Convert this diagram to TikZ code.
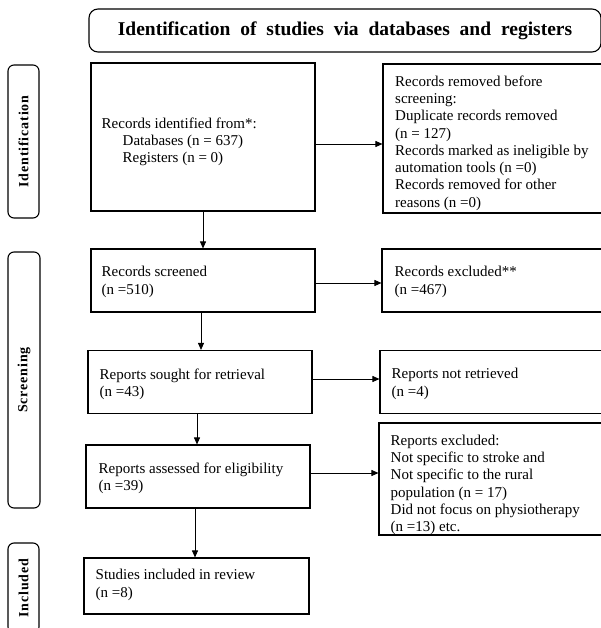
\documentclass[tikz,border=0pt]{standalone}
\usepackage{fontspec}
\setmainfont{Liberation Serif}
\usetikzlibrary{arrows.meta}
\begin{document}
\begin{tikzpicture}[x=1pt,y=-1pt,
  box/.style={draw, line width=1.1pt, inner sep=0pt},
  txt/.style={anchor=west, align=left, inner sep=0pt, font=\fontsize{15}{17.25}\selectfont},
  side/.style={draw, line width=1.1pt, rounded corners=6pt, inner sep=0pt, rotate=90,
    font=\fontsize{14}{16}\selectfont\bfseries\addfontfeatures{LetterSpace=6}},
  arr/.style={-{Triangle[length=7pt,width=6pt]}, line width=0.8pt}]
\useasboundingbox (0,0) rectangle (601,628);
\clip (0,0) rectangle (601,628);
% title
\node[draw, line width=1.1pt, rounded corners=9pt, minimum width=512pt, minimum height=43pt,
  font=\fontsize{19.5}{22}\selectfont\bfseries] (title) at (345,30.5)
  {Identification\hspace{5pt} of\hspace{5pt} studies\hspace{5pt} via\hspace{5pt} databases\hspace{5pt} and\hspace{5pt} registers};
% side labels
\node[side, minimum width=153pt, minimum height=31pt] (sid) at (23.5,141.5) {Identification};
\node[side, minimum width=256pt, minimum height=32pt] (sscr) at (24,380) {Screening};
\node[side, minimum width=90pt, minimum height=31pt] (sinc) at (23.5,588) {Included};
% boxes
\node[box, minimum width=224pt, minimum height=148pt] (A) at (203,137) {};
\node[box, minimum width=219pt, minimum height=149pt] (B) at (492.5,138.5) {};
\node[box, minimum width=224pt, minimum height=63pt] (C) at (203,280.5) {};
\node[box, minimum width=220pt, minimum height=63pt] (D) at (492,280.5) {};
\node[box, minimum width=224pt, minimum height=63pt] (E) at (200,382) {};
\node[box, minimum width=222pt, minimum height=63pt] (F) at (491,382) {};
\node[box, minimum width=224pt, minimum height=63pt] (G) at (198,476.5) {};
\node[box, minimum width=223pt, minimum height=112pt] (H) at (490.5,479) {};
\node[box, minimum width=225pt, minimum height=56pt] (I) at (196.5,586) {};
% texts
\node[txt] (At) at (101.5,142) {Records identified from*:\\\hspace*{21pt}Databases (n = 637)\\\hspace*{21pt}Registers (n = 0)};
\node[txt] (Bt) at (395,143) {Records removed before\\screening:\\Duplicate records removed\\(n = 127)\\Records marked as ineligible by\\automation tools (n =0)\\Records removed for other\\reasons (n =0)};
\node[txt] (Ct) at (101.5,282) {Records screened\\(n =510)};
\node[txt] (Dt) at (394.5,282) {Records excluded**\\(n =467)};
\node[txt] (Et) at (99.5,384) {Reports sought for retrieval\\(n =43)};
\node[txt] (Ft) at (391.5,384) {Reports not retrieved\\(n =4)};
\node[txt] (Gt) at (98.5,478) {Reports assessed for eligibility\\(n =39)};
\node[txt] (Ht) at (390.5,485) {Reports excluded:\\Not specific to stroke and\\Not specific to the rural\\population (n = 17)\\Did not focus on physiotherapy\\(n =13) etc.};
\node[txt] (It) at (95.5,585) {Studies included in review\\(n =8)};
% arrows
\draw[arr] ([yshift=-7pt]A.east) -- ([yshift=-7pt]A.east -| B.west);
\draw[arr] ([yshift=-2.5pt]C.east) -- ([yshift=-2.5pt]C.east -| D.west);
\draw[arr] ([yshift=3pt]E.east) -- ([yshift=3pt]E.east -| F.west);
\draw[arr] ([yshift=3.5pt]G.east) -- ([yshift=3.5pt]G.east -| H.west);
\draw[arr] (A.south) -- (A.south |- C.north);
\draw[arr] ([xshift=-2pt]C.south) -- ([xshift=-2pt]C.south |- E.north);
\draw[arr] ([xshift=-3pt]E.south) -- ([xshift=-3pt]E.south |- G.north);
\draw[arr] ([xshift=-3pt]G.south) -- ([xshift=-3pt]G.south |- I.north);
\end{tikzpicture}
\end{document}
